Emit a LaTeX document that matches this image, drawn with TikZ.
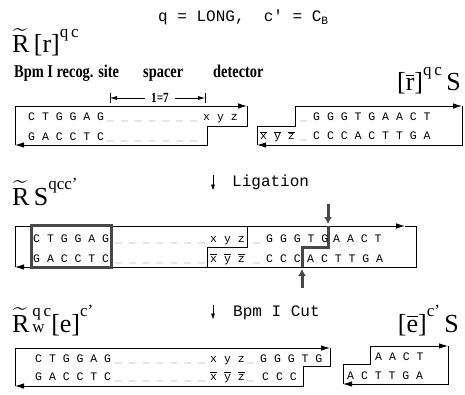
\documentclass[tikz,border=0pt]{standalone}
\usepackage{fontspec}
\usepackage{amsmath}
\setmainfont{Liberation Serif}
\newfontfamily\seqfont{Liberation Mono}
\newfontfamily\tagfont{Liberation Serif}[FakeStretch=0.8]
\usetikzlibrary{arrows.meta, positioning}
\definecolor{cutgray}{RGB}{72, 72, 72}
\definecolor{gapgray}{RGB}{165, 165, 165}
\newcommand{\ob}[1]{$\overline{\mbox{#1}}$}
\newcommand{\supx}[1]{\raisebox{0.6em}{\fontsize{17}{17}\selectfont #1}}
\newcommand{\tR}{$\widetilde{\mathrm{R}}$}

\begin{document}
\begin{tikzpicture}[
    x=1pt, y=-1pt,
    % Style definitions
    seq/.style={font=\seqfont\fontsize{11.5}{12}\selectfont, inner sep=0pt, anchor=base west},
    gap/.style={seq, text=gapgray},
    biglabel/.style={font=\fontsize{26}{28}\selectfont, inner sep=0pt},
    tag/.style={font=\tagfont\bfseries\fontsize{18}{19}\selectfont, inner sep=0pt, anchor=base west},
    monotext/.style={font=\seqfont\fontsize{16}{18}\selectfont, inner sep=0pt, anchor=base west},
    strand/.style={line width=0.9pt, black},
    fwdarrow/.style={-{Latex[length=9pt,width=5.5pt]}},
    dimarrow/.style={semithick, -{Latex[length=7pt,width=4pt]}},
    downarrow/.style={semithick, -{Latex[length=6pt,width=4pt]}},
    cutline/.style={line width=3pt, cutgray},
    cutarrow/.style={line width=3pt, cutgray, -{Latex[length=7pt,width=8pt]}}
]
    \useasboundingbox (0,0) rectangle (465,395);

    % === TITLE ===
    \node (title) [monotext] at (158,22) {q = LONG,\ \ c' = C\textsubscript{B}};

    % === TOP ROW: two fragments ===
    \node (lab_r) [biglabel, anchor=base west] at (12,53) {\tR\,[r]\supx{q\,c}};
    \node (lab_rbar) [biglabel, anchor=base east] at (461,91) {[\ob{r}]\supx{q\,c}\,S};

    \node (tag_site) [tag] at (14,78) {Bpm I recog. site};
    \node (tag_spacer) [tag] at (143,78) {spacer};
    \node (tag_det) [tag] at (213,78) {detector};

    \node (len) [font=\tagfont\bfseries\fontsize{14}{14}\selectfont, inner sep=6pt] at (160,98) {1=7};
    \coordinate (len_l) at (110,98);
    \coordinate (len_r) at (205,98);
    \draw[dimarrow] (len) -- (len_l);
    \draw[dimarrow] (len) -- (len_r);
    \draw[semithick] ([yshift=-5pt]len_l) -- ([yshift=5pt]len_l);
    \draw[semithick] ([yshift=-5pt]len_r) -- ([yshift=5pt]len_r);

    % left fragment
    \draw[strand, fwdarrow] (15,145) -- (15,106) -- (247,106);
    \draw[strand, fwdarrow] (247,106) -- (247,126) -- (207,126) -- (207,145) -- (15,145);
    \node (a_t1) [seq] at (28,121) {C T G G A G};
    \node (a_t2) [gap] at (107,121) {\_ \_ \_ \_ \_ \_ \_};
    \node (a_t3) [seq] at (203,121) {x y z};
    \node (a_b1) [seq] at (28,141) {G A C C T C};
    \node (a_b2) [gap] at (107,141) {\_ \_ \_ \_ \_ \_ \_};

    % right fragment
    \draw[strand, fwdarrow] (257,145) -- (257,126) -- (295,126) -- (295,106) -- (462,106);
    \draw[strand, fwdarrow] (462,106) -- (462,145) -- (257,145);
    \node (b_t1) [gap] at (300,121) {\_};
    \node (b_t2) [seq] at (313,121) {G G G T G A A C T};
    \node (b_b1) [seq] at (260,140) {\ob{x} \ob{y} \ob{z}};
    \node (b_b2) [gap] at (300,140) {\_};
    \node (b_b3) [seq] at (313,140) {C C C A C T T G A};

    % === MIDDLE ROW: ligation ===
    \node (lab_rs) [biglabel, anchor=base west] at (12,205) {\tR\,S\supx{qcc'}};
    \node (lig) [monotext] at (232,187) {Ligation};
    \draw[downarrow] ([xshift=-19pt]lig.north west) -- ([xshift=-19pt]lig.south west);

    \draw[strand, fwdarrow] (15,267) -- (15,226) -- (405,226);
    \draw[strand, fwdarrow] (405,226) -- (416,226) -- (416,267) -- (15,267);
    \draw[strand] (247,226) -- (247,247) -- (207,247) -- (207,267);
    \draw[cutline] (31,225) rectangle (111,267);
    \draw[cutline] (328,226) -- (328,247) -- (302,247) -- (302,267);
    \coordinate (cut_top) at (328,224);
    \coordinate (cut_bot) at (302,269);
    \draw[cutarrow] ([yshift=20pt]cut_top) -- (cut_top);
    \draw[cutarrow] ([yshift=-19pt]cut_bot) -- (cut_bot);

    \node (c_t1) [seq] at (33,242) {C T G G A G};
    \node (c_t2) [gap] at (115,242) {\_ \_ \_ \_ \_ \_ \_};
    \node (c_t3) [seq] at (210,242) {x y z};
    \node (c_t4) [gap] at (253,242) {\_};
    \node (c_t5) [seq] at (266,242) {G G G T G};
    \node (c_t6) [seq] at (333,242) {A A C T};
    \node (c_b1) [seq] at (33,262) {G A C C T C};
    \node (c_b2) [gap] at (115,262) {\_ \_ \_ \_ \_ \_ \_};
    \node (c_b3) [seq] at (210,262) {\ob{x} \ob{y} \ob{z}};
    \node (c_b4) [gap] at (253,262) {\_};
    \node (c_b5) [seq] at (266,262) {C C C};
    \node (c_b6) [seq] at (307,262) {A C T T G A};

    % === BOTTOM ROW: Bpm I cut ===
    \node (lab_rwe) [biglabel, anchor=base west] at (12,332) {\tR\rlap{\fontsize{17}{17}\selectfont\,w}\supx{\,q\,c}[e]\supx{c'}};
    \node (lab_ebar) [biglabel, anchor=base east] at (459,332) {[\ob{e}]\supx{c'}\,S};
    \node (cut) [monotext] at (233,316) {Bpm I Cut};
    \draw[downarrow] ([xshift=-20pt]cut.north west) -- ([xshift=-20pt]cut.south west);

    % left product
    \draw[strand, fwdarrow] (15,386) -- (15,348) -- (330,348);
    \draw[strand, fwdarrow] (330,348) -- (330,366) -- (303,366) -- (303,386) -- (15,386);
    \node (d_t1) [seq] at (35,362) {C T G G A G};
    \node (d_t2) [gap] at (115,362) {\_ \_ \_ \_ \_ \_ \_};
    \node (d_t3) [seq] at (210,362) {x y z};
    \node (d_t4) [gap] at (247,362) {\_};
    \node (d_t5) [seq] at (260,362) {G G G T G};
    \node (d_b1) [seq] at (35,380) {G A C C T C};
    \node (d_b2) [gap] at (115,380) {\_ \_ \_ \_ \_ \_ \_};
    \node (d_b3) [seq] at (210,380) {\ob{x} \ob{y} \ob{z}};
    \node (d_b4) [gap] at (247,380) {\_};
    \node (d_b5) [seq] at (262,380) {C C C};

    % right product
    \draw[strand, fwdarrow] (343,384) -- (343,364) -- (370,364) -- (370,346) -- (448,346);
    \draw[strand, fwdarrow] (448,346) -- (448,384) -- (343,384);
    \node (e_t1) [seq] at (375,360) {A A C T};
    \node (e_b1) [seq] at (347,379) {A C T T G A};

\end{tikzpicture}
\end{document}
